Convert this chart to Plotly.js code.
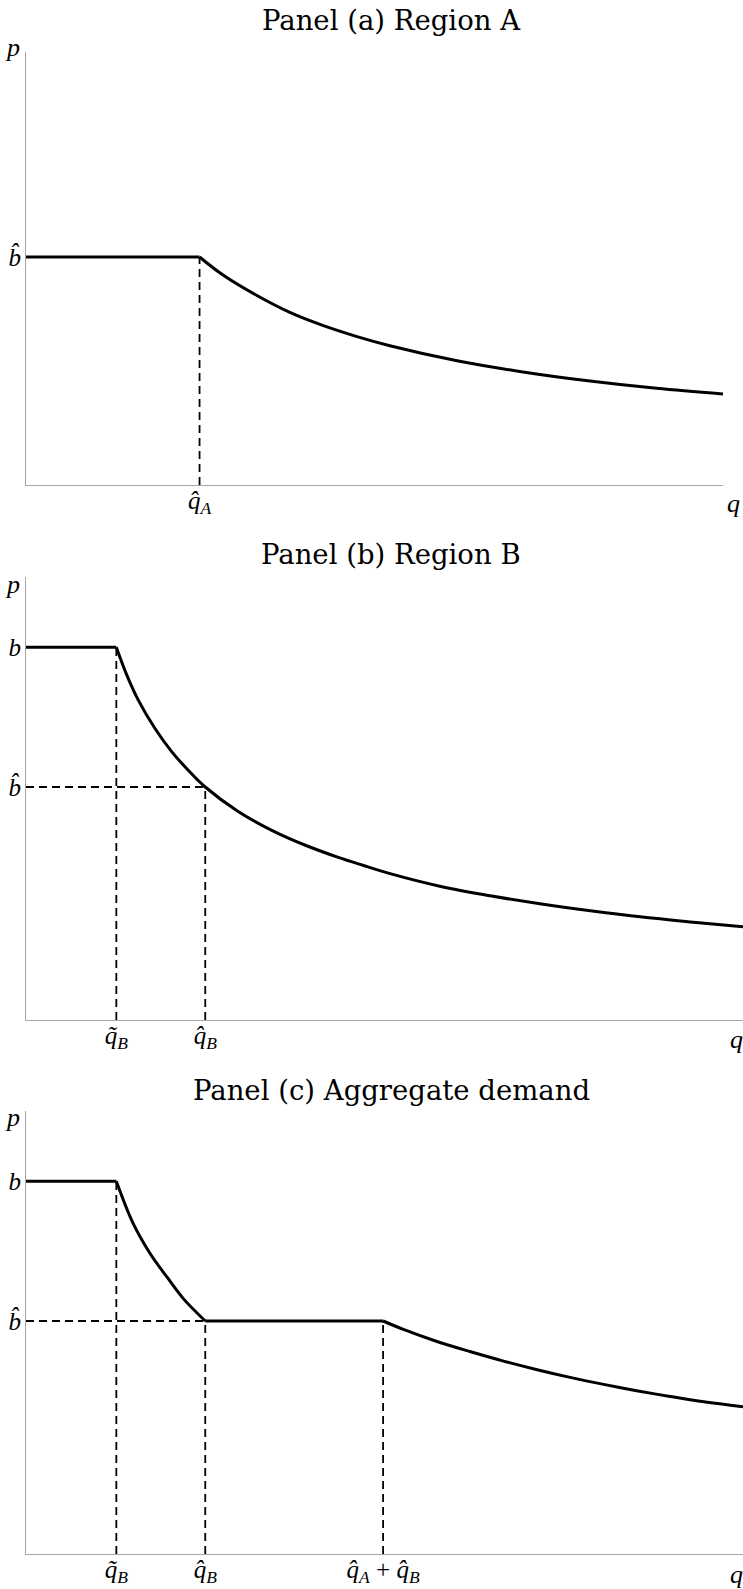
<!DOCTYPE html>
<html>
<head>
<meta charset="utf-8">
<script src="https://cdn.plot.ly/plotly-3.0.1.min.js"></script>
<style>html,body{margin:0;padding:0;background:#fff;}</style>
</head>
<body>
<div id="chart" style="width:743px;height:1589px;"></div>
<script>
// ---- key levels ----
const bHat = 1.0;      // \hat b
const bTop = 1.6;      // b
const qHatA = 2.48;    // \hat q_A
const qTildeB = 1.29;  // \tilde q_B
const qHatB = 2.56;    // \hat q_B
const qSumAB = 5.10;   // \hat q_A + \hat q_B

// ---- panel (a) Region A ----
const qA_curve = [2.48, 2.81, 3.30, 3.77, 4.24, 4.73, 5.20, 6.16, 7.10, 8.06, 9.01, 9.96];
const pA_curve = [1.0, 0.922, 0.831, 0.757, 0.700, 0.651, 0.611, 0.545, 0.496, 0.456, 0.424, 0.399];

// ---- panel (b) Region B ----
const qB_curve = [1.29, 1.44, 1.60, 1.84, 2.08, 2.32, 2.56, 3.03, 3.51, 3.99, 4.46, 4.81, 5.20, 5.91, 6.63, 7.34, 8.06, 8.77, 9.49, 10.24];
const pB_curve = [1.6, 1.48, 1.375, 1.252, 1.152, 1.071, 1.0, 0.895, 0.814, 0.750, 0.698, 0.664, 0.628, 0.574, 0.533, 0.499, 0.469, 0.443, 0.421, 0.400];

// ---- panel (c) Aggregate demand ----
const qC_seg = [1.29, 1.53, 1.77, 2.01, 2.25, 2.56];
const pC_seg = [1.6, 1.419, 1.291, 1.190, 1.095, 1.0];
const qC_tail = [5.10, 5.39, 5.87, 6.34, 6.82, 7.30, 7.77, 8.25, 8.72, 9.20, 9.68, 10.24];
const pC_tail = [1.0, 0.964, 0.912, 0.869, 0.828, 0.791, 0.758, 0.728, 0.701, 0.676, 0.653, 0.632];

// ---- tick labels ----
const lblBhat = '<i>b\u0302</i>';
const lblB = '<i>b</i>';
const lblQhatA = '<i>q\u0302<sub>A</sub></i>';
const lblQtildeB = '<i>q\u0303<sub>B</sub></i>';
const lblQhatB = '<i>q\u0302<sub>B</sub></i>';
const lblSum = '<i>q\u0302<sub>A</sub></i> + <i>q\u0302<sub>B</sub></i>';
const titles = ['Panel (a) Region A', 'Panel (b) Region B', 'Panel (c) Aggregate demand'];

const W = 743, H = 1589;
const px = v => v / W;
const py = v => 1 - v / H;

const solid = {color: 'black', width: 3};
const dashed = {color: 'black', width: 1.8, dash: '8px,5px'};

function tr(x, y, line, xa, ya, shape) {
  return {x: x, y: y, type: 'scatter', mode: 'lines', line: Object.assign({}, line, {shape: shape || 'linear'}),
          xaxis: xa, yaxis: ya, hoverinfo: 'skip'};
}

const xMaxA = 9.96, xMaxBC = 10.24;

const data = [
  // panel a
  tr([qHatA, qHatA], [0, bHat], dashed, 'x', 'y'),
  tr([0, qHatA], [bHat, bHat], solid, 'x', 'y'),
  tr(qA_curve, pA_curve, solid, 'x', 'y', 'spline'),
  // panel b
  tr([qTildeB, qTildeB], [0, bTop], dashed, 'x2', 'y2'),
  tr([qHatB, qHatB], [0, bHat], dashed, 'x2', 'y2'),
  tr([0, qHatB], [bHat, bHat], dashed, 'x2', 'y2'),
  tr([0, qTildeB], [bTop, bTop], solid, 'x2', 'y2'),
  tr(qB_curve, pB_curve, solid, 'x2', 'y2', 'spline'),
  // panel c
  tr([qTildeB, qTildeB], [0, bTop], dashed, 'x3', 'y3'),
  tr([qHatB, qHatB], [0, bHat], dashed, 'x3', 'y3'),
  tr([qSumAB, qSumAB], [0, bHat], dashed, 'x3', 'y3'),
  tr([0, qHatB], [bHat, bHat], dashed, 'x3', 'y3'),
  tr([0, qTildeB], [bTop, bTop], solid, 'x3', 'y3'),
  tr(qC_seg, pC_seg, solid, 'x3', 'y3', 'spline'),
  tr([qHatB, qSumAB], [bHat, bHat], solid, 'x3', 'y3'),
  tr(qC_tail, pC_tail, solid, 'x3', 'y3', 'spline')
];

const tickFont = {family: 'Liberation Serif', size: 25, color: 'black'};
function xAxis(domain, range, vals, texts, anchor) {
  return {domain: domain, range: range, anchor: anchor, showgrid: false, zeroline: false,
          showline: true, linecolor: '#a6a6a6', linewidth: 1, ticks: '', tickvals: vals, ticktext: texts,
          tickfont: tickFont, tickangle: 0, ticklabelstandoff: -7, fixedrange: true};
}
function yAxis(domain, vals, texts, anchor) {
  return {domain: domain, range: [0, 1.9], anchor: anchor, showgrid: false, zeroline: false,
          showline: true, linecolor: '#a6a6a6', linewidth: 1, ticks: '', tickvals: vals, ticktext: texts,
          tickfont: tickFont, ticklabelstandoff: -1, fixedrange: true};
}

const titleFont = {family: 'DejaVu Serif', size: 27.5, color: 'black'};
const lblFont = {family: 'Liberation Serif', size: 26, color: 'black'};
function ann(text, x, y, font) {
  return {text: text, x: px(x), y: py(y), xref: 'paper', yref: 'paper', showarrow: false,
          xanchor: 'center', yanchor: 'middle', font: font};
}

const layout = {
  width: W, height: H,
  margin: {l: 0, r: 0, t: 0, b: 0},
  paper_bgcolor: 'white', plot_bgcolor: 'white',
  showlegend: false,
  title: {text: titles[0], x: px(391), xanchor: 'center', xref: 'paper', y: py(20), yanchor: 'middle', font: titleFont},
  xaxis: xAxis([px(26), px(723)], [0, xMaxA], [qHatA], [lblQhatA], 'y'),
  yaxis: yAxis([py(485), py(51.8)], [bHat], [lblBhat], 'x'),
  xaxis2: xAxis([px(26), 1], [0, xMaxBC], [qTildeB, qHatB], [lblQtildeB, lblQhatB], 'y2'),
  yaxis2: yAxis([py(1020), py(577.3)], [bHat, bTop], [lblBhat, lblB], 'x2'),
  xaxis3: xAxis([px(26), 1], [0, xMaxBC], [qTildeB, qHatB, qSumAB], [lblQtildeB, lblQhatB, lblSum], 'y3'),
  yaxis3: yAxis([py(1554), py(1111.3)], [bHat, bTop], [lblBhat, lblB], 'x3'),
  annotations: [
    ann(titles[1], 391, 554, titleFont),
    ann(titles[2], 391, 1090, titleFont),
    ann('<i>p</i>', 13, 48, lblFont),
    ann('<i>p</i>', 13, 584, lblFont),
    ann('<i>p</i>', 13, 1117, lblFont),
    ann('<i>q</i>', 733, 503, lblFont),
    ann('<i>q</i>', 736, 1039, lblFont),
    ann('<i>q</i>', 736, 1574, lblFont)
  ]
};

Plotly.newPlot('chart', data, layout, {displayModeBar: false, staticPlot: true});
</script>
</body>
</html>
